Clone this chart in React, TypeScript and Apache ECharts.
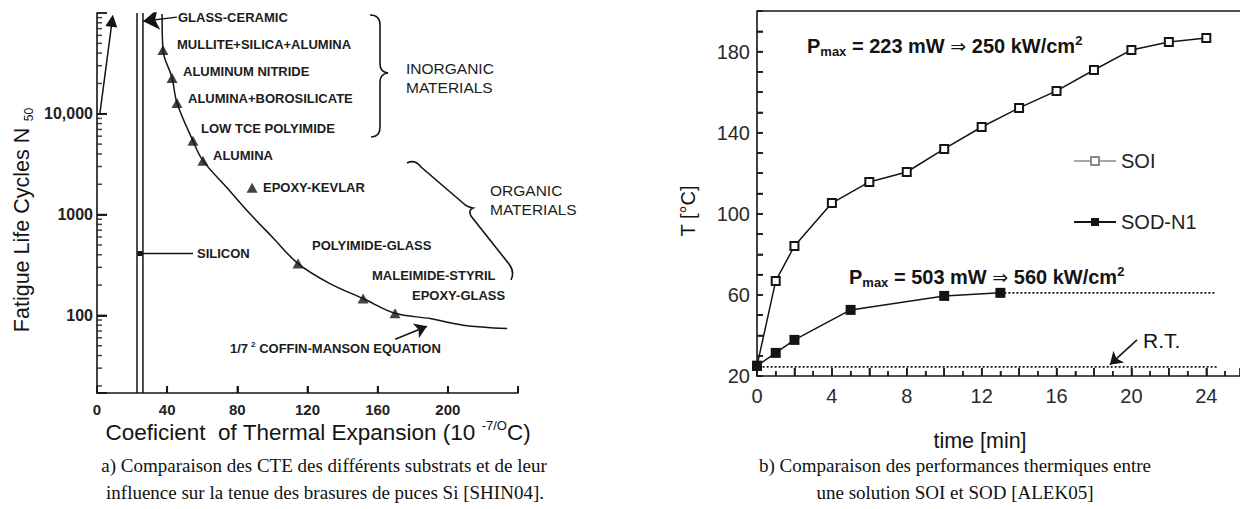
import React, { useEffect, useRef } from "react";
import * as echarts from "echarts";

// ---------- Left chart: CTE (10^-7/°C) vs fatigue life N50 ----------
const curveCTE = [37.1, 37.6, 42.8, 45.6, 54.7, 60.4, 74.1, 87.2, 100.3, 114.6, 132.8, 151.7, 169.9, 189.9, 208.7, 233.8];
const curveN = [98000, 43000, 22700, 12800, 5400, 3430, 1850, 1020, 590, 327, 207, 147, 105, 93, 80, 74];
const materials = ["MULLITE+SILICA+ALUMINA", "ALUMINUM NITRIDE", "ALUMINA+BOROSILICATE", "LOW TCE POLYIMIDE", "ALUMINA", "EPOXY-KEVLAR", "POLYIMIDE-GLASS", "MALEIMIDE-STYRIL", "EPOXY-GLASS"];
const materialCTE = [37.6, 42.8, 45.6, 54.7, 60.4, 88.4, 114.6, 151.7, 169.9];
const materialN = [43000, 22700, 12800, 5400, 3430, 1850, 327, 147, 105];
const siliconBandCTE = [22.8, 26.2];
const siliconPointCTE = [24.5, 54.7];
const siliconPointN = [411, 411];
const steepLineCTE = [1.7, 8.6];
const steepLineN = [10200, 83700];
const glassCeramicArrowCTE = [45.6, 26.3];
const glassCeramicArrowN = [91000, 83000];
const coffinArrowCTE = [170, 188.1];
const coffinArrowN = [58, 78];
const leftXTickValues = [40, 80, 120, 160, 200, 240];
const leftYTickValues = [100, 1000, 10000];
const leftYTickLabels = ["100", "1000", "10,000"];
const leftYMinorMult = [2, 3, 4, 5, 6, 7, 8, 9];
const leftYDecades = [10, 100, 1000, 10000];
const leftYMin = 17;
const leftYMax = 100000;

// ---------- Right chart: temperature vs time ----------
const soiTime = [0, 1, 2, 4, 6, 8, 10, 12, 14, 16, 18, 20, 22, 24];
const soiTemp = [25, 66.9, 84.1, 105.3, 115.7, 120.6, 132, 142.8, 152.2, 160.6, 170.9, 180.8, 184.7, 186.7];
const sodTime = [0, 1, 2, 5, 10, 13];
const sodTemp = [25, 31.4, 37.8, 52.6, 59.5, 61];
const sodSteadyTime = [13, 24.5];
const sodSteadyTemp = [61, 61];
const rtTime = [0.3, 24.6];
const rtTemp = [24.5, 24.5];
const rtArrowTime = [20.3, 18.85];
const rtArrowTemp = [37.8, 25.6];
const rightXLabelStep = 4;
const rightXLastLabel = 24;
const rightXMajorTicks = [2, 4, 6, 8, 10, 12, 14, 16, 18, 20, 22, 24];
const rightXMinorTicks = [1, 3, 5, 7, 9, 11, 13, 15, 17, 19, 21, 23, 25];
const rightYLabels = [20, 60, 100, 140, 180];
const rightYTicks = [30, 40, 50, 60, 70, 80, 90, 100, 110, 120, 130, 140, 150, 160, 170, 180, 190];

const FONT = "'Liberation Sans', Arial, Helvetica, sans-serif";
const SERIF = "'Liberation Serif', 'Times New Roman', serif";
const INK = "#141414";

const zip = (xs: number[], ys: number[]) => xs.map((x, i) => [x, ys[i]]);

export default function App() {
  const ref = useRef<HTMLDivElement>(null);

  useEffect(() => {
    const el = ref.current!;
    echarts.graphic.registerShape(
      "braceInorganic",
      echarts.graphic.extendPath("M370,15 Q380,15 380,25 L380,64 Q380,72 388,73 Q380,74 380,82 L380,127 Q380,137 371,137", {})
    );
    echarts.graphic.registerShape(
      "braceOrganic",
      echarts.graphic.extendPath("M407,163 Q415,159 421,167 L463,203 Q467,207 473,208 Q468,210 471,216 L509,264 Q515,272 511,280", {})
    );
    const chart = echarts.init(el, null, { renderer: "svg" });

    const minorLeft: number[] = [];
    leftYDecades.forEach((d) =>
      leftYMinorMult.forEach((m) => {
        const v = d * m;
        if (v > leftYMin && v < leftYMax) minorLeft.push(v);
      })
    );

    const leftRect = { left: 97, top: 13, width: 421, height: 380 };
    const rightRect = { left: 757, top: 11, width: 483, height: 365 };

    const axisLine = { show: true, onZero: false, lineStyle: { color: INK, width: 1.6 } };
    const leftLabel = { fontFamily: FONT, fontSize: 15, fontWeight: "bold" as const, color: "#222" };
    const rightLabel = { fontFamily: FONT, fontSize: 20, color: "#2a2a2a" };

    const smallText = (text: string, x: number, y: number) => ({
      type: "text",
      x,
      y,
      style: { text, fontFamily: FONT, fontSize: 13, fontWeight: "bold", fill: "#1c1c1c", verticalAlign: "middle", align: "left" },
    });

    const leftLabels: [string, number, number][] = [
      ["GLASS-CERAMIC", 178, 17],
      [materials[0], 177, 44],
      [materials[1], 183, 71],
      [materials[2], 188, 98],
      [materials[3], 201, 128],
      [materials[4], 213, 155],
      [materials[5], 263, 187],
      ["SILICON", 197, 253],
      [materials[6], 312, 245],
      [materials[7], 372, 275],
      [materials[8], 412, 295],
    ];

    const lineSeries = (name: string, data: number[][], xi: number, yi: number, extra: any = {}) => ({
      type: "line",
      name,
      xAxisIndex: xi,
      yAxisIndex: yi,
      data,
      showSymbol: false,
      symbol: "none",
      silent: true,
      lineStyle: { color: INK, width: 1.5 },
      z: 3,
      ...extra,
    });

    const arrowSeries = (coords: number[][], xi: number, yi: number, sym: string, size: any) => ({
      type: "lines",
      coordinateSystem: "cartesian2d",
      xAxisIndex: xi,
      yAxisIndex: yi,
      silent: true,
      symbol: ["none", sym],
      symbolSize: size,
      lineStyle: { color: INK, width: 1.5, opacity: 1, curveness: 0 },
      itemStyle: { color: INK },
      data: [{ coords }],
      z: 4,
    });

    // tick marks drawn on the axis lines through the axes' own scales
    const tickMarks = (name: string, data: number[][], xi: number, yi: number, size: number[], offset: number[]) => ({
      type: "scatter", name, xAxisIndex: xi, yAxisIndex: yi, silent: true, clip: false,
      data, symbol: "rect", symbolSize: size, symbolOffset: offset,
      itemStyle: { color: INK }, z: 6,
    });

    const option: any = {
      animation: false,
      backgroundColor: "#ffffff",
      grid: [leftRect, rightRect],
      xAxis: [
        {
          gridIndex: 0, type: "value", min: 0, max: 240, interval: 40, position: "bottom",
          axisLine,
          axisTick: { show: true, inside: true, length: 7, lineStyle: { color: INK, width: 1.8 } },
          axisLabel: { ...leftLabel, margin: 9, formatter: (v: number) => (v <= 200 ? String(v) : "") },
          splitLine: { show: false },
        },
        {
          gridIndex: 1, type: "value", min: 0, max: 25.8, interval: 2, position: "bottom",
          axisLine,
          axisTick: { show: true, inside: true, length: 8, lineStyle: { color: INK, width: 1.6 } },
          minorTick: { show: true, splitNumber: 2, length: 5, lineStyle: { color: INK, width: 1.5 } },
          axisLabel: {
            ...rightLabel, margin: 10, showMaxLabel: false,
            formatter: (v: number) => (v % rightXLabelStep === 0 && v <= rightXLastLabel ? String(v) : ""),
          },
          splitLine: { show: false },
          minorSplitLine: { show: false },
        },
      ],
      yAxis: [
        {
          gridIndex: 0, type: "log", logBase: 10, min: leftYMin, max: leftYMax, position: "left",
          axisLine,
          axisTick: { show: true, inside: true, length: 10, lineStyle: { color: INK, width: 1.8 } },
          axisLabel: {
            ...leftLabel,
            fontSize: 16,
            margin: 4,
            formatter: (v: number) => {
              const i = leftYTickValues.findIndex((t) => Math.abs(t - v) / t < 1e-3);
              return i >= 0 ? leftYTickLabels[i] : "";
            },
          },
          splitLine: { show: false },
        },
        {
          gridIndex: 1, type: "value", min: 20, max: 200, interval: 10, position: "left",
          axisLine,
          axisTick: { show: true, inside: true, length: 6, lineStyle: { color: INK, width: 1.6 } },
          axisLabel: {
            ...rightLabel, margin: 7,
            formatter: (v: number) => (rightYLabels.includes(v) ? String(v) : ""),
          },
          splitLine: { show: false },
        },
      ],
      legend: {
        data: [
          { name: "SOI", itemStyle: { color: "#8a8a8a" }, lineStyle: { color: "#8a8a8a", width: 1.3 } },
          { name: "SOD-N1" },
        ],
        orient: "vertical",
        left: 1068,
        top: 146,
        itemWidth: 42,
        itemHeight: 10,
        itemGap: 41,
        selectedMode: false,
        textStyle: { fontFamily: FONT, fontSize: 20, color: "#222" },
      },
      series: [
        // Left chart
        lineSeries("Coffin-Manson", zip(curveCTE, curveN), 0, 0, { smooth: 0.35 }),
        {
          type: "scatter", name: "Materials", xAxisIndex: 0, yAxisIndex: 0, silent: true,
          data: materialCTE.map((x, i) => ({ name: materials[i], value: [x, materialN[i]] })),
          symbol: "triangle", symbolSize: [11, 10], itemStyle: { color: INK }, z: 5,
        },
        tickMarks("left minor y ticks", minorLeft.map((v) => [0, v]), 0, 0, [5, 1.5], [2.5, 0]),
        tickMarks("left major y ticks", leftYTickValues.map((v) => [0, v]), 0, 0, [10, 1.8], [5, 0]),
        tickMarks("left x ticks", leftXTickValues.map((v) => [v, leftYMin]), 0, 0, [1.8, 7], [0, -3.5]),
        ...siliconBandCTE.map((x, i) => lineSeries("band" + i, [[x, leftYMin], [x, leftYMax]], 0, 0, { lineStyle: { color: INK, width: 1.5 } })),
        lineSeries("Silicon", zip(siliconPointCTE, siliconPointN), 0, 0, {
          showSymbol: true,
          symbol: "rect",
          symbolSize: (_v: any, p: any) => (p.dataIndex === 0 ? 5 : 0),
          itemStyle: { color: INK },
          lineStyle: { color: INK, width: 1.4 },
        }),
        arrowSeries(zip(steepLineCTE, steepLineN), 0, 0, "triangle", [12, 12]),
        arrowSeries(zip(glassCeramicArrowCTE, glassCeramicArrowN), 0, 0, "arrow", [6, 16]),
        arrowSeries(zip(coffinArrowCTE, coffinArrowN), 0, 0, "arrow", [6, 12]),
        // Right chart
        tickMarks("right x ticks", rightXMajorTicks.map((t) => [t, 20]), 1, 1, [1.5, 8], [0, -4]),
        tickMarks("right x minor ticks", rightXMinorTicks.map((t) => [t, 20]), 1, 1, [1.4, 5], [0, -2.5]),
        tickMarks("right y ticks", rightYTicks.map((v) => [0, v]), 1, 1, [6, 1.5], [3, 0]),
        lineSeries("SOI", zip(soiTime, soiTemp), 1, 1, {
          showSymbol: true, symbol: "emptyRect", symbolSize: 8,
          itemStyle: { color: INK, borderWidth: 1.5 },
        }),
        lineSeries("SOD-N1", zip(sodTime, sodTemp), 1, 1, {
          showSymbol: true, symbol: "rect", symbolSize: 10,
          itemStyle: { color: INK },
        }),
        lineSeries("SOD steady", zip(sodSteadyTime, sodSteadyTemp), 1, 1, { lineStyle: { color: INK, width: 1.6, type: [2, 2] } }),
        lineSeries("R.T.", zip(rtTime, rtTemp), 1, 1, { lineStyle: { color: INK, width: 1.6, type: [2, 2] } }),
        arrowSeries(zip(rtArrowTime, rtArrowTemp), 1, 1, "arrow", [8, 12]),
      ],
      graphic: [
        // top frame line of the right plot
        {
          type: "line", silent: true,
          shape: { x1: rightRect.left, y1: rightRect.top, x2: rightRect.left + rightRect.width, y2: rightRect.top },
          style: { stroke: INK, lineWidth: 1.4 },
        },
        { type: "braceInorganic", x: 0, y: 0, silent: true, style: { fill: "none", stroke: INK, lineWidth: 1.6 } },
        { type: "braceOrganic", x: 0, y: 0, silent: true, style: { fill: "none", stroke: INK, lineWidth: 1.6 } },
        ...leftLabels.map(([t, x, y]) => smallText(t, x, y)),
        {
          type: "text", x: 230, y: 348,
          style: {
            text: "{n|1/7}{s|2}{n| COFFIN-MANSON EQUATION}",
            verticalAlign: "middle", align: "left",
            rich: {
              n: { fontFamily: FONT, fontSize: 13, fontWeight: "bold", fill: "#1c1c1c", lineHeight: 15 },
              s: { fontFamily: FONT, fontSize: 8, fontWeight: "bold", fill: "#1c1c1c", lineHeight: 8, verticalAlign: "top", padding: [0, 0, 0, 3] },
            },
          },
        },
        { type: "text", x: 406, y: 68, style: { text: "INORGANIC", fontFamily: FONT, fontSize: 15.5, fill: "#1c1c1c", verticalAlign: "middle" } },
        { type: "text", x: 406, y: 87, style: { text: "MATERIALS", fontFamily: FONT, fontSize: 15.5, fill: "#1c1c1c", verticalAlign: "middle" } },
        { type: "text", x: 490, y: 190, style: { text: "ORGANIC", fontFamily: FONT, fontSize: 15.5, fill: "#1c1c1c", verticalAlign: "middle" } },
        { type: "text", x: 490, y: 209, style: { text: "MATERIALS", fontFamily: FONT, fontSize: 15.5, fill: "#1c1c1c", verticalAlign: "middle" } },
        // left axis titles
        {
          type: "text", x: 318, y: 432,
          style: {
            text: "{n|Coeficient  of Thermal Expansion (10 }{s|-7/O}{n|C)}",
            align: "center", verticalAlign: "middle",
            rich: {
              n: { fontFamily: FONT, fontSize: 22.5, fill: INK, lineHeight: 27 },
              s: { fontFamily: FONT, fontSize: 13, fill: INK, lineHeight: 13, verticalAlign: "top" },
            },
          },
        },
        {
          type: "text", x: 22, y: 220, rotation: Math.PI / 2,
          style: {
            text: "{n|Fatigue Life Cycles N}{s|  50}",
            align: "center", verticalAlign: "middle",
            rich: {
              n: { fontFamily: FONT, fontSize: 21.5, fill: INK, lineHeight: 26 },
              s: { fontFamily: FONT, fontSize: 12, fill: INK, lineHeight: 12, verticalAlign: "bottom" },
            },
          },
        },
        // right axis titles
        { type: "text", x: 688, y: 211, rotation: Math.PI / 2, style: { text: "T [°C]", fontFamily: FONT, fontSize: 20, fill: INK, align: "center", verticalAlign: "middle" } },
        { type: "text", x: 980, y: 441, style: { text: "time [min]", fontFamily: FONT, fontSize: 21.5, fill: INK, align: "center", verticalAlign: "middle" } },
        { type: "text", x: 1143, y: 340, style: { text: "R.T.", fontFamily: FONT, fontSize: 21, fill: INK, align: "left", verticalAlign: "middle" } },
        ...[
          ["223", "250", 807, 46],
          ["503", "560", 849, 277],
        ].map(([p, d, x, y]) => ({
          type: "text", x, y,
          style: {
            text: `{b|P}{sub|max}{b| = ${p} mW }{a|⇒}{b| ${d} kW/cm}{sup|2}`,
            align: "left", verticalAlign: "middle",
            rich: {
              b: { fontFamily: FONT, fontSize: 20, fontWeight: "bold", fill: INK, lineHeight: 24 },
              sub: { fontFamily: FONT, fontSize: 13, fontWeight: "bold", fill: INK, lineHeight: 13, verticalAlign: "bottom" },
              sup: { fontFamily: FONT, fontSize: 13, fontWeight: "bold", fill: INK, lineHeight: 13, verticalAlign: "top" },
              a: { fontFamily: "'DejaVu Sans', sans-serif", fontSize: 19, fill: INK, lineHeight: 24 },
            },
          },
        })),
        // captions
        ...[
          ["a) Comparaison des CTE des différents substrats et de leur", 324, 465],
          ["influence sur la tenue des brasures de puces Si [SHIN04].", 325, 492],
          ["b) Comparaison des performances thermiques entre", 955, 465],
          ["une solution SOI et SOD [ALEK05]", 955, 492],
        ].map(([t, x, y]) => ({
          type: "text", x, y,
          style: { text: t, fontFamily: SERIF, fontSize: 19, fill: "#111", align: "center", verticalAlign: "middle" },
        })),
      ],
    };

    chart.setOption(option);
    return () => chart.dispose();
  }, []);

  return (
    <div
      ref={ref}
      style={{ position: "fixed", left: 0, top: 0, width: 1240, height: 509, background: "#fff" }}
    />
  );
}
